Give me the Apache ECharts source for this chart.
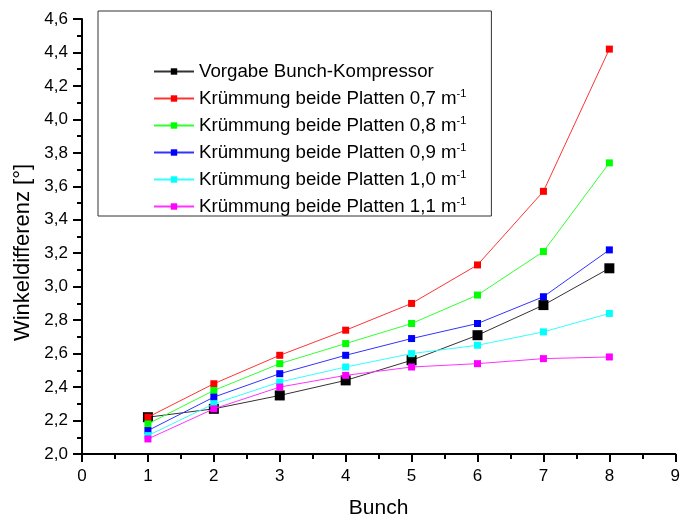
<!DOCTYPE html>
<html><head><meta charset="utf-8">
<script src="https://cdn.jsdelivr.net/npm/echarts@6/dist/echarts.min.js"></script>
<style>html,body{margin:0;padding:0;background:#fff}#c{width:683px;height:524px}</style>
</head><body><div id="c"></div>
<script>
const bunch = [1, 2, 3, 4, 5, 6, 7, 8];
const seriesNames = [
  'Vorgabe Bunch-Kompressor',
  'Krümmung beide Platten 0,7 m-1',
  'Krümmung beide Platten 0,8 m-1',
  'Krümmung beide Platten 0,9 m-1',
  'Krümmung beide Platten 1,0 m-1',
  'Krümmung beide Platten 1,1 m-1'
];
const vorgabe = [2.22, 2.27, 2.35, 2.44, 2.56, 2.71, 2.89, 3.11];
const k07 = [2.22, 2.42, 2.59, 2.74, 2.90, 3.13, 3.57, 4.42];
const k08 = [2.18, 2.38, 2.54, 2.66, 2.78, 2.95, 3.21, 3.74];
const k09 = [2.14, 2.34, 2.48, 2.59, 2.69, 2.78, 2.94, 3.22];
const k10 = [2.11, 2.30, 2.43, 2.52, 2.60, 2.65, 2.73, 2.84];
const k11 = [2.09, 2.27, 2.40, 2.47, 2.52, 2.54, 2.57, 2.58];
const yTicks = ['2,0','2,2','2,4','2,6','2,8','3,0','3,2','3,4','3,6','3,8','4,0','4,2','4,4','4,6'];

const allValues = [vorgabe, k07, k08, k09, k10, k11];
const colors = ['#000000', '#ff0000', '#00ff00', '#0000ff', '#00ffff', '#ff00ff'];
const lineColors = ['#333333', '#ff3333', '#33ff33', '#3333ff', '#33ffff', '#ff33ff'];

const series = allValues.map((vals, i) => ({
  name: seriesNames[i],
  type: 'line',
  data: bunch.map((b, j) => [b, vals[j]]),
  symbol: 'rect',
  symbolSize: i === 0 ? 10 : 7,
  itemStyle: { color: colors[i] },
  lineStyle: { color: lineColors[i], width: 1 },
  emphasis: { disabled: true },
  animation: false,
  z: 2 + i
}));

const chart = echarts.init(document.getElementById('c'));
chart.setOption({
  animation: false,
  grid: { left: 82, right: 5, top: 19, bottom: 67 },
  xAxis: {
    type: 'value', min: 0, max: 9, interval: 1,
    name: 'Bunch', nameLocation: 'middle', nameGap: 44,
    nameTextStyle: { fontFamily: 'Liberation Sans', fontSize: 21, color: '#000' },
    axisLine: { lineStyle: { color: '#000', width: 2 } },
    axisTick: { show: true, length: 8, lineStyle: { color: '#000', width: 2 } },
    minorTick: { show: true, splitNumber: 2, length: 5, lineStyle: { color: '#000', width: 2 } },
    splitLine: { show: false },
    axisLabel: { fontFamily: 'Liberation Sans', fontSize: 17, color: '#000', margin: 14 }
  },
  yAxis: {
    type: 'value', min: 2.0, max: 4.6, interval: 0.2,
    name: 'Winkeldifferenz [°]', nameLocation: 'middle', nameGap: 47,
    nameTextStyle: { fontFamily: 'Liberation Sans', fontSize: 22, color: '#000', padding: [0, 32, 0, 0] },
    axisLine: { show: true, lineStyle: { color: '#000', width: 2 } },
    axisTick: { show: true, length: 9, lineStyle: { color: '#000', width: 2 } },
    minorTick: { show: true, splitNumber: 2, length: 5, lineStyle: { color: '#000', width: 2 } },
    splitLine: { show: false },
    axisLabel: {
      fontFamily: 'Liberation Sans', fontSize: 17, color: '#000', margin: 14,
      formatter: v => yTicks[Math.round((v - 2.0) / 0.2)]
    }
  },
  legend: {
    left: 98, top: 11, orient: 'vertical',
    padding: [51, 25, 0, 55],
    itemGap: 7, itemWidth: 40, itemHeight: 8,
    borderColor: '#333', borderWidth: 1,
    data: seriesNames,
    formatter: name => {
      const m = name.match(/^(.*)-1$/);
      return m ? '{t|' + m[1] + '}{s|-1}' : '{t|' + name + '}';
    },
    textStyle: {
      fontFamily: 'Liberation Sans', fontSize: 18.7, color: '#000',
      rich: {
        t: { fontFamily: 'Liberation Sans', fontSize: 18.7, color: '#000' },
        s: { fontFamily: 'Liberation Sans', fontSize: 11, color: '#000', verticalAlign: 'top', padding: [0, 0, 10, 0] }
      }
    }
  },
  series: series
});
</script></body></html>
